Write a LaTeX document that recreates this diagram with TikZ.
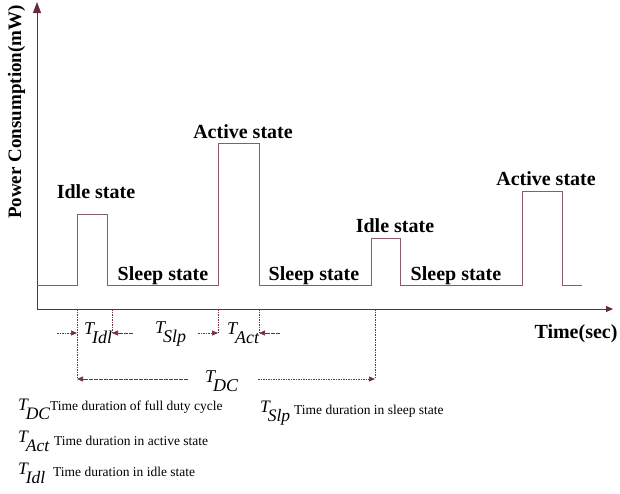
\documentclass[tikz,border=0pt]{standalone}
\usepackage{fontspec}
\setmainfont{Liberation Serif}
\usetikzlibrary{arrows.meta}

\definecolor{axiscol}{RGB}{105,40,68}
\definecolor{sigcol}{RGB}{140,90,110}
\definecolor{dashcol}{RGB}{115,45,75}

% time symbol with a lowered italic subscript
\newcommand\tsym[1]{\textit{T}\kern-0.18em\raisebox{-0.55em}{\textit{#1}}}

\tikzset{
  axisline/.style={draw=axiscol, line width=0.9pt},
  signal/.style={draw=sigcol, line width=0.9pt},
  guide/.style={draw=dashcol, line width=0.7pt, dash pattern=on 1.6pt off 0.9pt},
  guidearrow/.style={guide, -{Triangle[length=6pt,width=5pt]}},
  statelbl/.style={font=\fontsize{20}{22}\selectfont\bfseries, inner sep=0pt, anchor=base},
  tlbl/.style={font=\fontsize{18}{20}\selectfont, inner sep=0pt, anchor=base west},
  legsym/.style={font=\fontsize{17.5}{19}\selectfont, inner sep=0pt, anchor=base west},
  legtxt/.style={font=\fontsize{13.5}{15}\selectfont, inner sep=0pt, anchor=base west}
}

\begin{document}
\begin{tikzpicture}[x=1pt, y=-1pt]
\useasboundingbox (0,0) rectangle (620,493);

% axes
\coordinate (O) at (37,309);
\coordinate (ytip) at (37,2);
\coordinate (xtip) at (613,309);
\draw[axisline, -{Triangle[length=11pt,width=8pt]}] (O) -- (ytip);
\draw[axisline, -{Triangle[length=7pt,width=6pt]}] (O) -- (xtip);

\node[font=\fontsize{19}{21}\selectfont\bfseries, rotate=90, anchor=base, inner sep=0pt]
  (ylabel) at (21,112) {Power Consumption(mW)};
\node[statelbl] (xlabel) at (576,338) {Time(sec)};

% power trace: idle, sleep, active, sleep, idle, sleep, active
\coordinate (s0) at (37,285);
\coordinate (i1a) at (77,285);  \coordinate (i1b) at (77,214);
\coordinate (i1c) at (107,214); \coordinate (i1d) at (107,285);
\coordinate (a1a) at (218,285); \coordinate (a1b) at (218,143);
\coordinate (a1c) at (259,143); \coordinate (a1d) at (259,285);
\coordinate (i2a) at (371,285); \coordinate (i2b) at (371,238);
\coordinate (i2c) at (400,238); \coordinate (i2d) at (400,285);
\coordinate (a2a) at (522,285); \coordinate (a2b) at (522,191);
\coordinate (a2c) at (562,191); \coordinate (a2d) at (562,285);
\coordinate (s9) at (582,285);
\draw[signal] (s0) -- (i1a) -- (i1b) -- (i1c) -- (i1d) -- (a1a) -- (a1b) -- (a1c)
  -- (a1d) -- (i2a) -- (i2b) -- (i2c) -- (i2d) -- (a2a) -- (a2b) -- (a2c) -- (a2d) -- (s9);

% state labels
\node[statelbl] (idle1) at (96,198) {Idle state};
\node[statelbl] (act1) at (243,138) {Active state};
\node[statelbl] (slp1) at (163,280) {Sleep state};
\node[statelbl] (slp2) at (314,280) {Sleep state};
\node[statelbl] (idle2) at (395,232) {Idle state};
\node[statelbl] (slp3) at (456,280) {Sleep state};
\node[statelbl] (act2) at (546,185) {Active state};

% duration markers
\coordinate (m1t) at (77,309);  \coordinate (m1b) at (77,379);
\coordinate (m2t) at (112,309); \coordinate (m2b) at (112,333);
\coordinate (m3t) at (218,309); \coordinate (m3b) at (218,333);
\coordinate (m4t) at (259,309); \coordinate (m4b) at (259,333);
\coordinate (m5t) at (375,309); \coordinate (m5b) at (375,379);
\draw[guide] (m1t) -- (m1b);
\draw[guide] (m2t) -- (m2b);
\draw[guide] (m3t) -- (m3b);
\draw[guide] (m4t) -- (m4b);
\draw[guide] (m5t) -- (m5b);

\coordinate (e1) at (57,333);
\coordinate (e2) at (133,333);
\coordinate (e3) at (198,333);
\coordinate (e4) at (280,333);
\coordinate (e5) at (188,379);
\coordinate (e6) at (258,379);
\draw[guidearrow] (e1) -- (m1t |- e1);
\draw[guidearrow] (e2) -- (m2b);
\draw[guidearrow] (e3) -- (m3b);
\draw[guidearrow] (e4) -- (m4b);
\draw[guidearrow] (e5) -- (m1b);
\draw[guidearrow] (e6) -- (m5b);

\node[tlbl] (tidl) at (84,334) {\tsym{Idl}};
\node[tlbl] (tslp) at (155,333) {\tsym{Slp}};
\node[tlbl] (tact) at (227,334) {\tsym{Act}};
\node[tlbl] (tdc) at (205,382) {\tsym{DC}};

% legend
\node[legsym] (ldc) at (18,410) {\tsym{DC}};
\node[legtxt] (ldct) at (50,410) {Time duration of full duty cycle};
\node[legsym] (lslp) at (260,412) {\tsym{Slp}};
\node[legtxt] (lslpt) at (294,414) {Time duration in sleep state};
\node[legsym] (lact) at (18,442) {\tsym{Act}};
\node[legtxt] (lactt) at (54,445) {Time duration in active state};
\node[legsym] (lidl) at (18,474) {\tsym{Idl}};
\node[legtxt] (lidlt) at (53,476) {Time duration in idle state};
\end{tikzpicture}
\end{document}
